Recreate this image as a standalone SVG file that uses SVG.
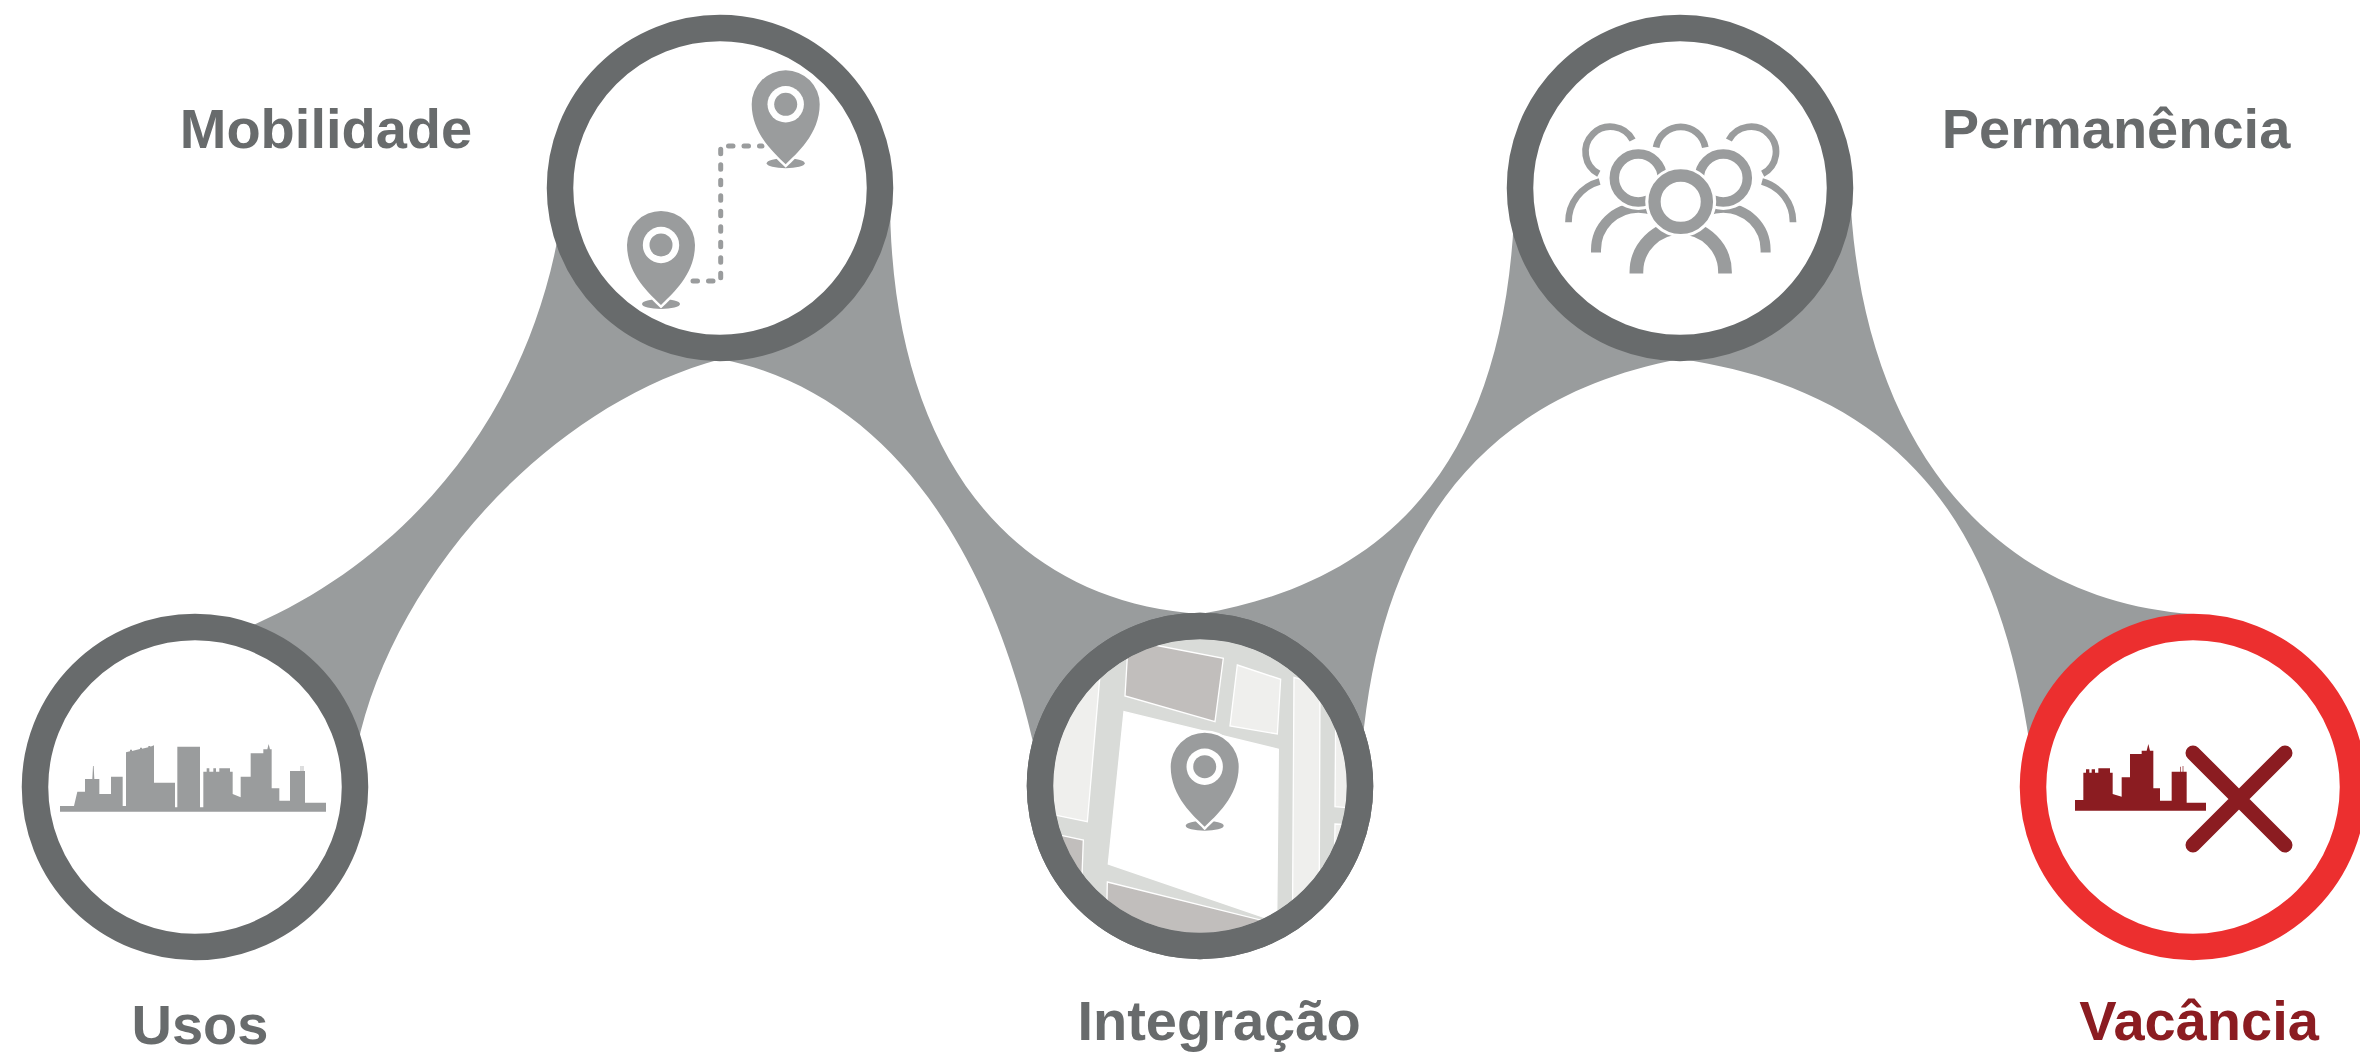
<svg xmlns="http://www.w3.org/2000/svg" width="2360" height="1054" viewBox="0 0 2360 1054">
<style>
.band{fill:#999c9d}
.ring{fill:#fff;stroke:#686b6c;stroke-width:26.5}
.ring-line{fill:none;stroke:#686b6c;stroke-width:26.5}
.alert{stroke:#ec2f2f}
.icon{fill:#9a9c9d}
.label{font-family:"Liberation Sans",Arial,Helvetica,sans-serif;font-weight:bold;font-size:56px;fill:#686b6c;text-anchor:middle}
.label-alert{fill:#8b1c21}
.people{fill:none;stroke:#9a9c9d}
.knock{fill:#fff}
.block{stroke:#fff;stroke-width:4}
</style>
<defs>
  <!-- map pin: head centre at the origin, tip 60 below -->
  <g id="pin" class="icon">
    <ellipse cx="0" cy="59" rx="19" ry="5"/>
    <path d="M0,60 C-10,50 -34,30 -34,0 A34,34 0 0 1 34,0 C34,30 10,50 0,60 Z" stroke="#fff" stroke-width="5" paint-order="stroke"/>
    <circle r="18.2" fill="#fff"/>
    <circle r="11.5"/>
  </g>
  <clipPath id="mapClip"><circle cx="1200" cy="786" r="147"/></clipPath>
</defs>

<!-- the winding ribbon that links the five stages -->
<g id="connectors">
  <path class="band" d="M200,645 C390,585 540,420 565,190 L890,190 C888,440 1000,600 1200,614 C1400,580 1510,450 1515,190 L1850,190 C1860,440 1990,600 2193,614 L2193,630 L2035,785 C2010,560 1930,395 1680,359 C1460,400 1370,560 1360,780 L1040,775 C1000,570 900,395 721,359 C530,410 370,610 352,780 Z"/>
</g>

<!-- Usos -->
<g id="node-usos">
  <circle class="ring" cx="195" cy="787" r="160"/>
  <path class="icon" transform="translate(0,590) scale(0.33333)" d="M180,665 V648 H222 L232,605 H255 V567 H277 L279,528 H281 L283,567 H298 V612 H333 V560 H368 V648 H378 V487 L390,484 V479 H396 V483 L420,477 V473 H426 V476 L445,472 V468 H451 V470 L462,466 V578 H525 V652 H532 V470 H600 V652 H610 V545 H620 V535 H628 V545 H640 V535 H648 V545 H658 V535 H690 V545 H698 V612 L722,622 V560 H752 V490 H790 V478 H802 L806,462 L810,478 H815 V595 H838 V632 H870 V543 H902 V528 H904 V543 H908 V528 H910 V543 H915 V638 H978 V665 Z"/>
  <text class="label" x="200" y="1044">Usos</text>
</g>

<!-- Mobilidade -->
<g id="node-mobilidade">
  <circle class="ring" cx="720" cy="188" r="160"/>
  <path d="M693,281 H720.7 V146 H762" fill="none" stroke="#9a9c9d" stroke-width="5" stroke-linecap="round" stroke-dasharray="4.5 11"/>
  <use href="#pin" transform="translate(785.7,104.3)"/>
  <use href="#pin" transform="translate(661,245)"/>
  <text class="label" x="326" y="148">Mobilidade</text>
</g>

<!-- Integração -->
<g id="node-integracao">
  <circle class="ring" cx="1200" cy="786" r="160"/>
  <g clip-path="url(#mapClip)">
    <g transform="translate(1000,590) scale(0.33333)">
      <rect x="130" y="130" width="940" height="940" fill="#d9dbd8"/>
      <polygon class="block" points="385,150 670,205 645,395 375,318" fill="#c1bebc"/>
      <polygon class="block" points="712,225 842,268 832,432 690,408" fill="#efefed"/>
      <polygon class="block" points="130,240 300,255 262,695 130,668" fill="#efefed"/>
      <polygon class="block" points="130,725 250,750 238,1070 130,1070" fill="#c1bebc"/>
      <polygon class="block" points="372,365 835,478 830,995 325,822" fill="#ffffff"/>
      <polygon class="block" points="322,876 790,992 790,1070 318,1070" fill="#c1bebc"/>
      <polygon class="block" points="882,262 960,285 957,1070 877,1070" fill="#efefed"/>
      <polygon class="block" points="1008,280 1070,280 1070,655 1005,650" fill="#efefed"/>
      <polygon class="block" points="1005,702 1070,706 1070,1070 1000,1070" fill="#efefed"/>
    </g>
  </g>
  <circle class="ring-line" cx="1200" cy="786" r="160"/>
  <use href="#pin" transform="translate(1204.7,766.7)"/>
  <text class="label" x="1219" y="1040">Integração</text>
</g>

<!-- Permanência -->
<g id="node-permanencia">
  <circle class="ring" cx="1680" cy="188" r="160"/>
  <!-- back row -->
  <g class="people" stroke-width="6.7">
    <path d="M1598.8,173.8 A25,25 0 1 1 1632.6,140"/>
    <path d="M1656.1,147.4 A25,25 0 0 1 1705.3,147.4"/>
    <path d="M1728.9,140 A25,25 0 1 1 1762.7,173.8"/>
    <path d="M1568.5,222.3 A42,42 0 0 1 1599.6,181.4"/>
    <path d="M1762,181.4 A42,42 0 0 1 1793,222.3"/>
  </g>
  <!-- middle row -->
  <path class="knock" d="M1587.7,253 V250 A50.6,50.6 0 0 1 1688.9,250 V253 Z"/>
  <path class="people" stroke-width="10" d="M1596,252.5 V250 A42.3,42.3 0 0 1 1680.6,250 V252.5"/>
  <circle class="knock" cx="1638.3" cy="178" r="32"/>
  <circle class="people" stroke-width="9.5" cx="1638.3" cy="178" r="24"/>
  <path class="knock" d="M1672.7,253 V250 A50.6,50.6 0 0 1 1773.9,250 V253 Z"/>
  <path class="people" stroke-width="10" d="M1681,252.5 V250 A42.3,42.3 0 0 1 1765.6,250 V252.5"/>
  <circle class="knock" cx="1723.3" cy="178" r="32"/>
  <circle class="people" stroke-width="9.5" cx="1723.3" cy="178" r="24"/>
  <!-- front figure -->
  <path class="knock" d="M1626.2,274 V272 A54.5,54.5 0 0 1 1735.2,272 V274 Z"/>
  <path class="people" stroke-width="13.7" d="M1636.4,273.5 V272 A44.3,44.3 0 0 1 1725,272 V273.5"/>
  <circle class="knock" cx="1680.7" cy="201.7" r="35.5"/>
  <circle class="people" stroke-width="12.3" cx="1680.7" cy="201.7" r="26.2"/>
  <text class="label" x="2116" y="148">Permanência</text>
</g>

<!-- Vacância -->
<g id="node-vacancia">
  <circle class="ring alert" cx="2193" cy="787" r="160"/>
  <path fill="#8b1c21" transform="translate(1990,590) scale(0.33333)" d="M255,662 V630 H280 V548 H288 V538 H298 V548 H305 V538 H315 V548 H325 V535 H360 V548 H368 V612 L395,620 V562 H420 V492 H455 V482 H470 L475,462 L480,482 H490 V595 H510 V632 H545 V545 H570 V530 H572 V545 H578 V528 H580 V545 H590 V638 H648 V662 Z"/>
  <path d="M2193,753 L2285,845 M2285,753 L2193,845" stroke="#8b1c21" stroke-width="15" stroke-linecap="round"/>
  <text class="label label-alert" x="2199" y="1040">Vacância</text>
</g>
</svg>
